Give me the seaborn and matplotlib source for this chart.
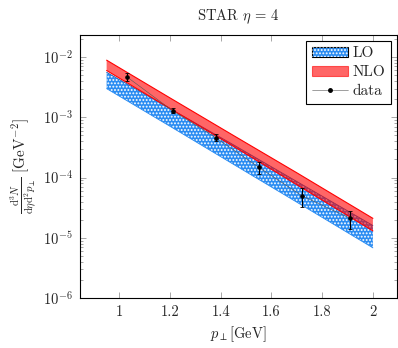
import numpy as np
import seaborn as sns
import matplotlib
matplotlib.use("Agg")
import matplotlib.pyplot as plt
from matplotlib.patches import Patch
from matplotlib.lines import Line2D
from matplotlib.legend_handler import HandlerTuple
from matplotlib.ticker import LogLocator, NullFormatter, NullLocator

# theory bands
pt_band = [0.95, 1.2, 1.45, 1.7, 2.0]
lo_upper = [5.6e-3, 1.40e-3, 3.5e-4, 8.6e-5, 1.6e-5]
lo_lower = [3.0e-3, 7.1e-4, 1.66e-4, 3.9e-5, 6.8e-6]
nlo_upper = [8.9e-3, 2.1e-3, 5.0e-4, 1.2e-4, 2.1e-5]
nlo_lower = [6.0e-3, 1.40e-3, 3.3e-4, 7.6e-5, 1.3e-5]

# STAR data
pt_data = [1.03, 1.21, 1.38, 1.55, 1.72, 1.91]
yield_data = [4.7e-3, 1.29e-3, 4.6e-4, 1.48e-4, 5.0e-5, 2.1e-5]
yield_err = [0.7e-3, 0.12e-3, 0.06e-3, 0.33e-4, 1.7e-5, 0.7e-5]

x_ticks = [1, 1.2, 1.4, 1.6, 1.8, 2]
x_ticklabels = ["1", "1.2", "1.4", "1.6", "1.8", "2"]

sns.set_theme(style="ticks")
plt.rcParams["font.family"] = ["serif"]
plt.rcParams["font.serif"] = ["cmr10", "DejaVu Serif"]
plt.rcParams["mathtext.fontset"] = "cm"
plt.rcParams["axes.formatter.use_mathtext"] = True
plt.rcParams["hatch.linewidth"] = 0.9

fs = 10.5
lo_blue = "#2a8cf2"
lo_edge = "#2060b0"
nlo_red = "red"

fig = plt.figure(figsize=(3.98, 3.48), dpi=100)
ax = fig.add_axes([0.201, 0.1437, 0.7965, 0.7553])
ax.set_yscale("log")

# LO band: blue with white dots
ax.fill_between(pt_band, lo_lower, lo_upper, facecolor=lo_blue, edgecolor="none", lw=0, zorder=1)
ax.fill_between(pt_band, lo_lower, lo_upper, facecolor="none", edgecolor="white",
                hatch=".....", lw=0, zorder=1.1)
sns.lineplot(x=pt_band, y=lo_upper, color=lo_edge, lw=0.6, ax=ax, zorder=1.2)
sns.lineplot(x=pt_band, y=lo_lower, color=lo_blue, lw=0.6, ax=ax, zorder=1.2)

# NLO band: semi transparent red
ax.fill_between(pt_band, nlo_lower, nlo_upper, facecolor=nlo_red, alpha=0.6, edgecolor="none", lw=0, zorder=2)
sns.lineplot(x=pt_band, y=nlo_upper, color=nlo_red, lw=0.8, ax=ax, zorder=2.1)
sns.lineplot(x=pt_band, y=nlo_lower, color=nlo_red, lw=0.8, ax=ax, zorder=2.1)

# data
ax.errorbar(pt_data, yield_data, yerr=yield_err, fmt="none", ecolor="black",
            elinewidth=0.8, capsize=1.5, capthick=0.6, zorder=4)
sns.lineplot(x=pt_data, y=yield_data, color="#555555", lw=0.4, marker="o", markersize=2.5,
             markerfacecolor="black", markeredgecolor="black", ax=ax, zorder=5)

ax.set_xlim(0.845, 2.095)
ax.set_ylim(1e-6, 10 ** -1.635)
ax.set_xticks(x_ticks)
ax.set_xticklabels(x_ticklabels)
ax.xaxis.set_minor_locator(NullLocator())
ax.yaxis.set_major_locator(LogLocator(base=10, numticks=10))
ax.yaxis.set_minor_locator(LogLocator(base=10, subs=np.arange(2, 10), numticks=20))
ax.yaxis.set_minor_formatter(NullFormatter())
ax.tick_params(which="both", direction="in", top=True, right=True, width=0.4,
               color="#666666", labelsize=fs, pad=5)
ax.tick_params(which="major", length=4)
ax.tick_params(which="minor", length=2)
for s in ax.spines.values():
    s.set_linewidth(0.8)
    s.set_color("black")

ax.set_title(r"STAR $\eta\,=\,4$", fontsize=fs, pad=11)
ax.set_xlabel(r"$p_{\perp}[\mathrm{GeV}]$", fontsize=fs, labelpad=4)
ax.set_ylabel(r"$\frac{\mathrm{d}^3N}{\mathrm{d}\eta\mathrm{d}^2p_{\perp}}\;[\mathrm{GeV}^{-2}]$",
              fontsize=fs + 0.5, labelpad=3)

handles = [
    (Patch(facecolor=lo_blue, edgecolor="black", lw=0.8),
     Patch(facecolor="none", edgecolor="white", hatch=".....", lw=0)),
    Patch(facecolor=nlo_red, alpha=0.6, edgecolor=nlo_red, lw=0.8),
    Line2D([], [], color="#555555", lw=0.4, marker="o", markersize=2.5,
           markerfacecolor="black", markeredgecolor="black"),
]
leg = ax.legend(handles, ["LO", "NLO", "data"], loc="upper right", fontsize=fs + 0.5,
                handler_map={tuple: HandlerTuple(ndivide=1, pad=0)},
                frameon=True, fancybox=False, framealpha=1, edgecolor="black",
                borderaxespad=0.4, borderpad=0.35, handlelength=2.4, handletextpad=0.3,
                labelspacing=0.35)
leg.get_frame().set_linewidth(0.8)

fig.savefig("out.png", dpi=100)
